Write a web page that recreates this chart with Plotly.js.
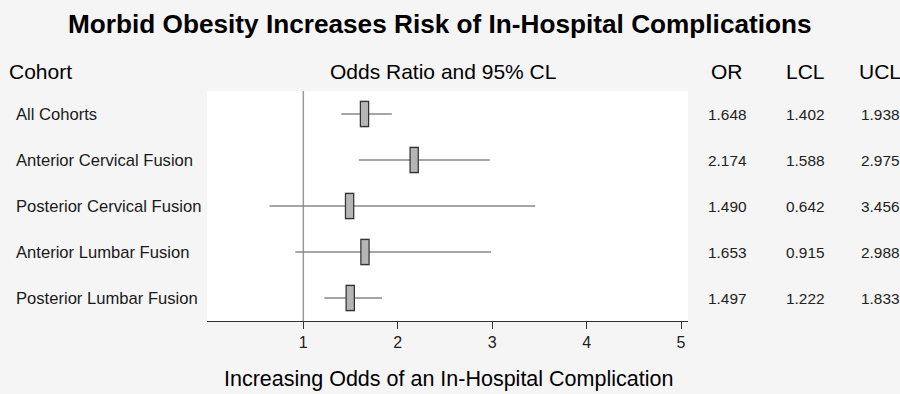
<!DOCTYPE html>
<html><head><meta charset="utf-8">
<script src="https://cdn.plot.ly/plotly-3.0.1.min.js"></script>
<style>body{margin:0;background:#f5f5f5}</style>
</head><body><div id="chart" style="width:900px;height:394px"></div>
<script>
var cohorts = ["All Cohorts","Anterior Cervical Fusion","Posterior Cervical Fusion","Anterior Lumbar Fusion","Posterior Lumbar Fusion"];
var oddsRatio = [1.648, 2.174, 1.490, 1.653, 1.497];
var lcl = [1.402, 1.588, 0.642, 0.915, 1.222];
var ucl = [1.938, 2.975, 3.456, 2.988, 1.833];
var xTicks = [1, 2, 3, 4, 5];
var refValue = 1;

var W = 900, H = 394, L = 207, R = 688, T = 91, B = 321;
function px(p){ return (p - L) / (R - L); }
function py(p){ return (B - p) / (B - T); }
function fmt(v){ return v.toFixed(3); }

var traces = [
  {type:'scatter', mode:'markers', x: oddsRatio, y: cohorts, hoverinfo:'skip',
   error_x:{type:'data', symmetric:false,
     array: oddsRatio.map(function(v,i){return ucl[i]-v;}),
     arrayminus: oddsRatio.map(function(v,i){return v-lcl[i];}),
     width:0, thickness:1.5, color:'#888888'},
   marker:{symbol:'line-ns', size:19, line:{width:9.5, color:'#333333'}, color:'#333333'}},
  {type:'scatter', mode:'markers', x: oddsRatio, y: cohorts, hoverinfo:'skip',
   marker:{symbol:'line-ns', size:17, line:{width:7, color:'#b5b5b5'}, color:'#b5b5b5'}}
];

var ann = [];
var font = 'Arial, "Liberation Sans", sans-serif';
cohorts.forEach(function(c, i){
  ann.push({xref:'paper', yref:'y', x:px(14), y:c, xanchor:'left', yanchor:'middle', showarrow:false,
    text:c, font:{family:font, size:16.6, color:'#1a1a1a'}});
  ann.push({xref:'paper', yref:'y', x:px(727), y:c, xanchor:'center', yanchor:'middle', showarrow:false,
    text:fmt(oddsRatio[i]), font:{family:font, size:15.4, color:'#222'}});
  ann.push({xref:'paper', yref:'y', x:px(805), y:c, xanchor:'center', yanchor:'middle', showarrow:false,
    text:fmt(lcl[i]), font:{family:font, size:15.4, color:'#222'}});
  ann.push({xref:'paper', yref:'y', x:px(880), y:c, xanchor:'center', yanchor:'middle', showarrow:false,
    text:fmt(ucl[i]), font:{family:font, size:15.4, color:'#222'}});
});
var headers = [["Cohort", 7, 'left'], ["Odds Ratio and 95% CL", 443, 'center'], ["OR", 727, 'center'], ["LCL", 805, 'center'], ["UCL", 880, 'center']];
headers.forEach(function(h){
  ann.push({xref:'paper', yref:'paper', x:px(h[1]), y:py(71), xanchor:h[2], yanchor:'middle', showarrow:false,
    text:h[0], font:{family:font, size:21, color:'#000'}});
});
ann.push({xref:'paper', yref:'paper', x:px(440), y:py(24), xanchor:'center', yanchor:'middle', showarrow:false,
  text:'<b>Morbid Obesity Increases Risk of In-Hospital Complications</b>', font:{family:font, size:26.2, color:'#000'}});
ann.push({xref:'paper', yref:'paper', x:px(448), y:py(393), xanchor:'center', yanchor:'bottom', showarrow:false,
  text:'Increasing Odds of an In-Hospital Complication', font:{family:font, size:21.5, color:'#000'}});

var layout = {
  width:W, height:H, showlegend:false,
  margin:{l:L, r:W-R, t:T, b:H-B, pad:0},
  paper_bgcolor:'#f5f5f5', plot_bgcolor:'#ffffff',
  xaxis:{range:[-0.02, 5.074], tickvals:xTicks, ticktext:xTicks.map(String), showgrid:false, zeroline:false,
    showline:true, linecolor:'#333', linewidth:1, ticks:'outside', ticklen:7, tickcolor:'#333',
    tickfont:{family:font, size:16, color:'#222'}, fixedrange:true},
  yaxis:{type:'category', categoryarray:cohorts, range:[4.5,-0.5], showticklabels:false, showgrid:false,
    zeroline:false, showline:false, ticks:'', fixedrange:true},
  shapes:[{type:'line', xref:'x', yref:'paper', x0:refValue, x1:refValue, y0:0, y1:1, layer:'below',
    line:{color:'#999', width:1.5}}],
  annotations: ann
};
Plotly.newPlot('chart', traces, layout, {displayModeBar:false, staticPlot:true});
</script></body></html>
